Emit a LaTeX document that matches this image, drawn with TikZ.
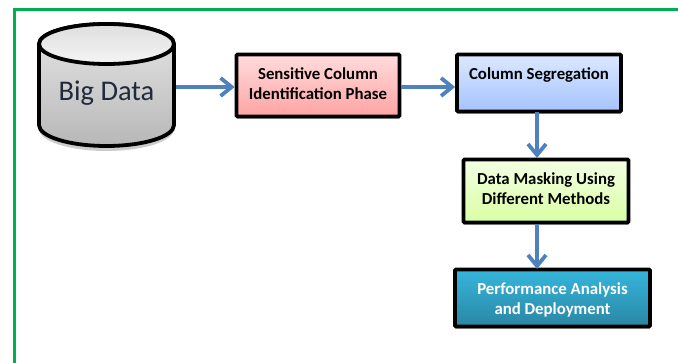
\documentclass[tikz,border=0pt]{standalone}
\usepackage{fontspec}
\setmainfont{Carlito}
\usetikzlibrary{arrows.meta,shadows,positioning}
\definecolor{framegreen}{HTML}{00B050}
\definecolor{arrowblue}{HTML}{4F81BD}
\definecolor{redtop}{HTML}{FFDCDC}
\definecolor{redbot}{HTML}{FFA3A3}
\definecolor{bluetop}{HTML}{DCE8FF}
\definecolor{bluebot}{HTML}{A5C3FF}
\definecolor{greentop}{HTML}{F4FFE4}
\definecolor{greenbot}{HTML}{D9FFA3}
\definecolor{tealtop}{HTML}{36B6DC}
\definecolor{tealbot}{HTML}{2A86A4}
\definecolor{dbtextcol}{HTML}{1F2A3A}
\newcommand{\shifted}[2]{\raisebox{#1}[0pt][0pt]{#2}}
\tikzset{
  stepbox/.style={draw=black,line width=3.8pt,rounded corners=1pt,inner sep=0pt,align=center,
    font=\bfseries\fontsize{16.8}{20}\selectfont,
    drop shadow={shadow xshift=0pt,shadow yshift=-2.5pt,opacity=.3,fill=black}},
  flow/.style={draw=arrowblue,line width=3.8pt,-{Straight Barb[length=11pt,width=18pt,line width=3.8pt]}},
  dbtext/.style={inner sep=0pt,minimum width=138pt,minimum height=60pt,font=\fontsize{28.5}{32}\selectfont,text=dbtextcol}
}
\begin{document}
\begin{tikzpicture}[x=1pt,y=-1pt]
\useasboundingbox (0,0) rectangle (678,363);
\fill[white] (0,0) rectangle (678,363);
\draw[framegreen,line width=3pt] (678,9.5) -- (14,9.5) -- (14,363);
% cylinder
\fill[black,opacity=.2] (39,50) -- (39,129) arc[start angle=180,end angle=0,x radius=67.5,y radius=22] -- (174,50) -- cycle;
\shade[top color=black!10,bottom color=black!28,draw=black,line width=3.8pt]
  (39,44) -- (39,125) arc[start angle=180,end angle=0,x radius=67.5,y radius=21] -- (174,44)
  arc[start angle=0,end angle=-180,x radius=67.5,y radius=20] -- cycle;
\shade[top color=black!13,bottom color=black!4,draw=black,line width=3.8pt]
  (106.5,44) ellipse[x radius=67.5,y radius=20];
\node[dbtext] (db) at (106.5,87) {\shifted{-14pt}{Big Data}};
\node[stepbox,top color=redtop,bottom color=redbot,minimum width=163pt,minimum height=62pt] (sens) at (318,85.5)
  {\shifted{-4.5pt}{\begin{tabular}{@{}c@{}}Sensitive Column\\Identification Phase\end{tabular}}};
\node[stepbox,top color=bluetop,bottom color=bluebot,minimum width=164pt,minimum height=57pt] (seg) at (539,83)
  {\shifted{3pt}{Column Segregation}};
\node[stepbox,top color=greentop,bottom color=greenbot,minimum width=165pt,minimum height=63pt] (mask) at (546,191)
  {\shifted{-4pt}{\begin{tabular}{@{}c@{}}Data Masking Using\\Different Methods\end{tabular}}};
\node[stepbox,top color=tealtop,bottom color=tealbot,text=white,minimum width=195pt,minimum height=57pt] (perf) at (552.5,298)
  {\shifted{-7pt}{\begin{tabular}{@{}c@{}}Performance Analysis\\and Deployment\end{tabular}}};
\draw[flow] (db.east) -- (db.east -| sens.west);
\draw[flow] (sens.east |- db.east) -- (seg.west |- db.east);
\coordinate (c1) at (537,112);
\coordinate (c2) at (537,158);
\coordinate (c3) at (537,224);
\coordinate (c4) at (537,269);
\draw[flow] (c1) -- (c2);
\draw[flow] (c3) -- (c4);
\end{tikzpicture}
\end{document}
